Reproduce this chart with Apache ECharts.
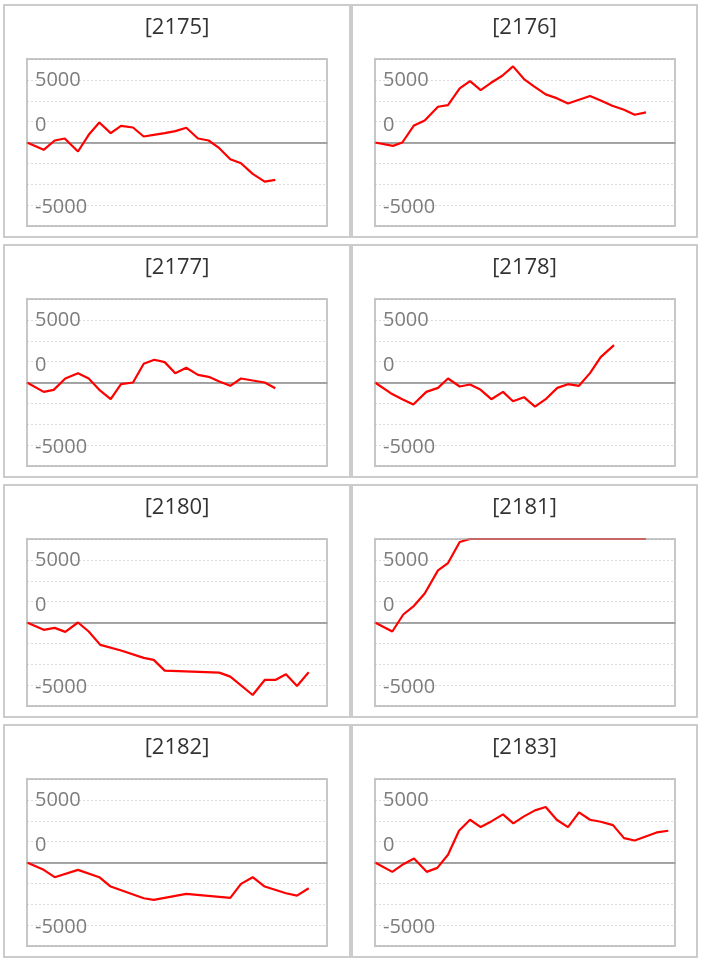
<!DOCTYPE html>
<html><head><meta charset="utf-8">
<script src="https://cdn.jsdelivr.net/npm/echarts@6/dist/echarts.min.js"></script>
<style>html,body{margin:0;padding:0;background:#fff}#c{width:701px;height:963px}</style>
</head><body><div id="c"></div>
<script>
// ---- data ----
const machines = ['[2175]', '[2176]', '[2177]', '[2178]', '[2180]', '[2181]', '[2182]', '[2183]'];

const x2175 = [0,16.7,27.7,37.7,51,61.7,72.3,83.7,94,106,116.7,126.7,137.7,148.3,159.3,171,181.7,192.3,203.3,214,225.7,237.7,248.3];
const y2175 = [0,-587,160,320,-720,613,1600,747,1333,1200,480,613,747,907,1173,320,160,-453,-1333,-1653,-2507,-3120,-2987];

const x2176 = [0,18,27.3,39,49.7,63,73,84.7,95,105.7,115.7,127.3,138,149,159,170.7,182.3,193,204,215,225.7,237.3,249,259.7,271];
const y2176 = [0,-267,0,1360,1760,2853,2987,4320,4907,4187,4747,5333,6080,5067,4480,3840,3520,3120,3413,3707,3360,2933,2613,2213,2400];

const x2177 = [0,16.7,26.7,38.3,51,61.7,72.3,83.7,94,106,116.7,127.3,137.7,148.3,159.3,171,181.7,192.3,203.3,214,225.7,237.7,248.3];
const y2177 = [0,-747,-587,320,747,320,-587,-1333,-133,0,1493,1813,1627,747,1173,613,453,80,-267,320,160,0,-453];

const x2178 = [0,15.7,27.3,38.3,51.3,63,73,84.7,95,105.7,116.3,128,138,149,160,170.7,182.3,193,204,215,225.7,239];
const y2178 = [0,-853,-1333,-1760,-747,-427,320,-320,-160,-587,-1333,-747,-1493,-1173,-1920,-1333,-427,-133,-267,747,2027,2987];

const x2180 = [0,16.7,27.7,38.3,51,61.7,73.3,94,116.7,126.7,137.7,192.3,203.3,225.7,237.7,248.3,259,270,281.7];
const y2180 = [0,-587,-427,-747,0,-720,-1787,-2240,-2827,-2987,-3840,-4000,-4320,-5787,-4587,-4587,-4133,-5067,-3973];

const x2181 = [0,17.3,28.3,39,49.7,63,73,84.7,95,271];
const y2181 = [0,-720,640,1333,2320,4160,4747,6427,6667,6667];

const x2182 = [0,16.7,27.7,51,72.3,83.7,116.7,126.7,159.3,203.3,214,225.7,237.7,259,270,281.7];
const y2182 = [0,-587,-1173,-587,-1173,-1920,-2853,-2987,-2507,-2827,-1707,-1173,-1920,-2453,-2640,-2053];

const x2183 = [0,17.3,28.3,39,51.7,62.3,73,84,95,105.7,116.3,128,138.3,149,160,170.7,181.7,193,204,215,225.7,238,249,259.7,270.7,281.7,293.3];
const y2183 = [0,-747,-133,320,-747,-427,613,2533,3413,2827,3280,3840,3120,3680,4160,4427,3413,2827,4000,3413,3253,2987,1947,1760,2080,2400,2533];

const xs = [x2175, x2176, x2177, x2178, x2180, x2181, x2182, x2183];
const ys = [y2175, y2176, y2177, y2178, y2180, y2181, y2182, y2183];

// y axis: gridline every 5000/3, tick labels shown on selected gridlines
const Y_STEP = 5000 / 3;
const Y_MIN = -4 * Y_STEP;
const Y_MAX = 4 * Y_STEP;
const X_MAX = 300;
const yTickSteps  = [3, 1, -3];
const yTickLabels = ['5000', '0', '-5000'];

// ---- layout ----
const chart = echarts.init(document.getElementById('c'), null, {renderer: 'canvas'});
const grids = [], xAxes = [], yAxes = [], series = [], graphics = [];
const FONT = 'Open Sans';
const LABEL_COLOR = '#7d7d7d';
const GW = 300, GH = 167;

for (let i = 0; i < 8; i++) {
  const col = i % 2, row = Math.floor(i / 2);
  const px = col ? 352 : 4, pw = col ? 345 : 346;
  const py = 5 + 240 * row, ph = 232;
  const gl = col ? 375 : 27, gt = 59 + 240 * row;
  graphics.push({
    type: 'rect', shape: {x: px, y: py, width: pw, height: ph},
    style: {fill: 'none', stroke: '#cccccc', lineWidth: 2}, z: -10, silent: true
  });
  // plot frame drawn over the series (semi-transparent, like the original)
  graphics.push({
    type: 'rect', shape: {x: gl, y: gt, width: GW, height: GH},
    style: {fill: 'none', stroke: 'rgba(165,165,165,0.62)', lineWidth: 2}, z: 100, silent: true
  });
  graphics.push({
    type: 'text', x: px + pw / 2, y: py + 23,
    style: {text: machines[i], fill: '#333333', font: '22px "' + FONT + '"',
            textAlign: 'center', textVerticalAlign: 'middle'},
    silent: true
  });
  grids.push({
    left: gl, top: gt, width: GW, height: GH,
    show: false, containLabel: false
  });
  xAxes.push({
    type: 'value', gridIndex: i, min: 0, max: X_MAX,
    axisLine: {show: true, onZero: true, lineStyle: {color: '#888888', width: 1.6}},
    axisTick: {show: false}, axisLabel: {show: false}, splitLine: {show: false}
  });
  yAxes.push({
    type: 'value', gridIndex: i, min: Y_MIN, max: Y_MAX, interval: Y_STEP,
    axisLine: {show: false}, axisTick: {show: false},
    axisLabel: {
      inside: true, margin: 8, color: LABEL_COLOR, fontSize: 20, fontFamily: FONT,
      formatter: function (v) {
        const k = Math.round(v / Y_STEP);
        const j = yTickSteps.indexOf(k);
        if (j < 0) return '';
        if (k === 1) return '{z|' + yTickLabels[j] + '}';
        if (k === -3) return '{m|' + yTickLabels[j] + '}';
        return yTickLabels[j];
      },
      rich: {
        z: {fontSize: 20, fontFamily: FONT, color: LABEL_COLOR, padding: [8, 0, 0, 0]},
        m: {fontSize: 20, fontFamily: FONT, color: LABEL_COLOR, padding: [5, 0, 0, 0]}
      }
    },
    splitLine: {show: true, lineStyle: {color: '#dcdcdc', width: 1, type: [2, 2]}}
  });
  series.push({
    type: 'line', xAxisIndex: i, yAxisIndex: i,
    data: xs[i].map((x, k) => [x, ys[i][k]]),
    showSymbol: false, symbol: 'none', clip: true,
    lineStyle: {color: '#ff0000', width: 2.2}, z: 5
  });
}

chart.setOption({
  animation: false,
  backgroundColor: '#ffffff',
  grid: grids, xAxis: xAxes, yAxis: yAxes, series: series,
  graphic: graphics
});
</script>
</body></html>
